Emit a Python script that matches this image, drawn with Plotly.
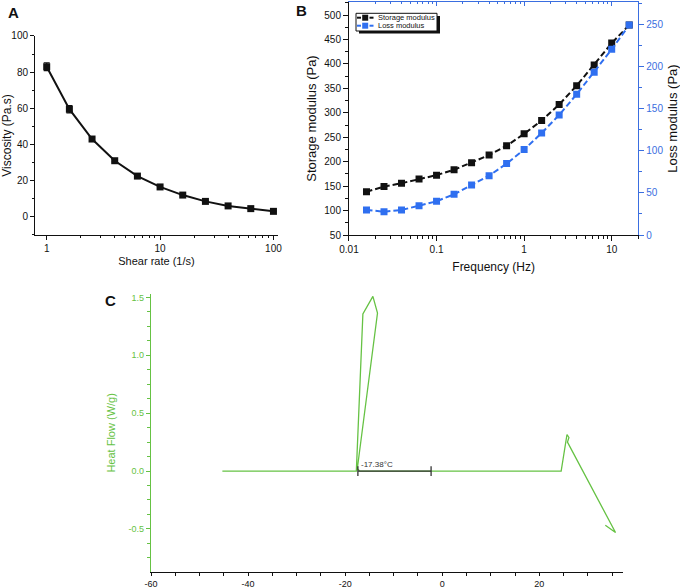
import plotly.graph_objects as go

# ---------------- data ----------------
shear_rate = [1, 1.585, 2.512, 3.981, 6.310, 10, 15.85, 25.12, 39.81, 63.10, 100]
viscosity = [83, 59.5, 43, 31, 22.5, 16.5, 12, 8.5, 6, 4.5, 3]
viscosity_err = [2.2, 2.0, 0.8, 0.6, 0.5, 0.4, 0.3, 0.3, 0.2, 0.2, 0.2]

frequency = [0.01585, 0.02512, 0.03981, 0.0631, 0.1, 0.1585, 0.2512, 0.3981,
             0.631, 1, 1.585, 2.512, 3.981, 6.31, 10, 15.85]
storage_modulus = [138.5, 149, 156, 164.5, 172.5, 183.5, 198, 213.5,
                   232.5, 257, 284, 317, 355.5, 398, 442.5, 479.5]
loss_modulus = [29.7, 27.7, 29.7, 34.8, 40, 48.3, 59.3, 70.4,
                84.7, 101.3, 121, 142.4, 167, 193, 220.3, 249]
series_names = ["Storage modulus", "Loss modulus"]

temperature = [-45.3, -17.7, -16.35, -14.29, -13.34, -17.5, -17.0, 24.5,
               25.7, 26.1, 25.8, 35.7, 33.6]
heat_flow = [0.0, 0.0, 1.357, 1.509, 1.366, 0.02, 0.0, 0.0,
             0.316, 0.29, 0.25, -0.531, -0.468]
onset_bar_x = [-17.38, -2.3]
onset_bar_y = [0, 0]
onset_label = "-17.38°C"

c_xtick_vals = [-60, -40, -20, 0, 20]
c_xtick_text = ["-60", "-40", "-20", "0", "20"]
c_ytick_vals = [-0.5, 0.0, 0.5, 1.0, 1.5]
c_ytick_text = ["-0.5", "0.0", "0.5", "1.0", "1.5"]

BLACK = "#111111"
BLUE = "#2f6ff0"
BLUE_AX = "#3a6ee0"
GREEN = "#66c244"
FONT = "Arial, Liberation Sans, sans-serif"
W, H = 680, 588

fig = go.Figure()

# Panel A
fig.add_trace(go.Scatter(
    x=shear_rate, y=viscosity, mode="lines+markers",
    line=dict(color=BLACK, width=2),
    marker=dict(symbol="square", size=7, color=BLACK),
    error_y=dict(type="data", array=viscosity_err, color=BLACK, thickness=1.2, width=3),
    xaxis="x", yaxis="y", showlegend=False))

# Panel B
fig.add_trace(go.Scatter(
    x=frequency, y=storage_modulus, mode="lines+markers", name=series_names[0],
    line=dict(color=BLACK, width=2, dash="6px,3px"),
    marker=dict(symbol="square", size=7, color=BLACK),
    xaxis="x2", yaxis="y2", showlegend=False))
fig.add_trace(go.Scatter(
    x=frequency, y=loss_modulus, mode="lines+markers", name=series_names[1],
    line=dict(color=BLUE, width=2, dash="6px,3px"),
    marker=dict(symbol="square", size=7, color=BLUE),
    xaxis="x2", yaxis="y3", showlegend=False))
# invisible helper trace for the top blue frame axis
fig.add_trace(go.Scatter(
    x=frequency[:1], y=storage_modulus[:1], mode="markers",
    marker=dict(opacity=0), hoverinfo="skip", showlegend=False,
    xaxis="x4", yaxis="y2"))

# Panel C
fig.add_trace(go.Scatter(
    x=temperature, y=heat_flow, mode="lines",
    line=dict(color=GREEN, width=1.3),
    xaxis="x3", yaxis="y4", showlegend=False))
fig.add_trace(go.Scatter(
    x=onset_bar_x, y=onset_bar_y, mode="lines+markers",
    line=dict(color="#333333", width=1.3),
    marker=dict(symbol="line-ns", size=7, line=dict(color="#333333", width=1.3)),
    xaxis="x3", yaxis="y4", showlegend=False))

tickfont = dict(family=FONT, size=10, color=BLACK)


def log_minor(decades):
    vals = []
    for d in decades:
        for k in range(2, 10):
            vals.append(k * d)
    return vals


fig.update_layout(
    width=W, height=H,
    margin=dict(l=0, r=0, t=0, b=0, autoexpand=False),
    paper_bgcolor="white", plot_bgcolor="white",
    font=dict(family=FONT, color=BLACK),
    showlegend=False,
    # Panel A axes
    xaxis=dict(domain=[0.0515, 0.4088], type="log", range=[-0.103, 2.04],
               anchor="y", showgrid=False, zeroline=False, automargin=False,
               showline=True, linecolor=BLACK, linewidth=1,
               tickmode="array", tickvals=[1, 10, 100], ticktext=["1", "10", "100"],
               ticks="outside", ticklen=4, tickcolor=BLACK, tickfont=tickfont,
               minor=dict(tickmode="array", tickvals=log_minor([1, 10]), ticks="outside",
                          ticklen=2, tickcolor=BLACK),
               title=dict(text="Shear rate (1/s)", font=dict(size=11, family=FONT), standoff=4)),
    yaxis=dict(domain=[0.6003, 0.9388], range=[-10.1, 100], anchor="x",
               showgrid=False, zeroline=False, automargin=False,
               showline=True, linecolor=BLACK, linewidth=1,
               tickmode="linear", tick0=0, dtick=20,
               ticks="outside", ticklen=4, tickcolor=BLACK, tickfont=tickfont,
               minor=dict(dtick=10, ticks="outside", ticklen=2, tickcolor=BLACK),
               title=dict(text="Viscosity (Pa.s)", font=dict(size=12, family=FONT), standoff=4)),
    # Panel B axes
    xaxis2=dict(domain=[0.5132, 0.9387], type="log", range=[-2, 1.304],
                anchor="y2", showgrid=False, zeroline=False, automargin=False,
                showline=True, linecolor=BLACK, linewidth=1,
                tickmode="array", tickvals=[0.01, 0.1, 1, 10],
                ticktext=["0.01", "0.1", "1", "10"],
                ticks="outside", ticklen=5, tickcolor=BLACK, tickfont=tickfont,
                minor=dict(tickmode="array", tickvals=log_minor([0.01, 0.1, 1, 10]),
                           ticks="outside", ticklen=3, tickcolor=BLACK),
                title=dict(text="Frequency (Hz)", font=dict(size=12, family=FONT), standoff=8)),
    xaxis4=dict(domain=[0.5132, 0.9387], type="log", range=[-2, 1.304],
                anchor="y2", overlaying="x2", side="top", showgrid=False, zeroline=False,
                automargin=False,
                showline=True, linecolor=BLUE_AX, linewidth=1,
                tickmode="array", tickvals=[0.01, 0.1, 1, 10], showticklabels=False,
                ticks="inside", ticklen=4, tickcolor=BLUE_AX,
                minor=dict(tickmode="array", tickvals=log_minor([0.01, 0.1, 1, 10]),
                           ticks="inside", ticklen=2, tickcolor=BLUE_AX)),
    yaxis2=dict(domain=[0.6003, 0.9966], range=[50, 526.6], anchor="x2",
                showgrid=False, zeroline=False, automargin=False,
                showline=True, linecolor=BLACK, linewidth=1,
                tickmode="linear", tick0=50, dtick=50,
                ticks="outside", ticklen=5, tickcolor=BLACK, tickfont=tickfont,
                minor=dict(dtick=25, ticks="outside", ticklen=3, tickcolor=BLACK),
                title=dict(text="Storage modulus (Pa)", font=dict(size=13, family=FONT), standoff=4)),
    yaxis3=dict(domain=[0.6003, 0.9966], range=[0, 276.4], anchor="x2",
                overlaying="y2", side="right",
                showgrid=False, zeroline=False, automargin=False,
                showline=True, linecolor=BLUE_AX, linewidth=1,
                tickmode="linear", tick0=0, dtick=50,
                ticks="outside", ticklen=5, tickcolor=BLUE_AX,
                tickfont=dict(family=FONT, size=10, color=BLUE_AX),
                minor=dict(dtick=25, ticks="outside", ticklen=3, tickcolor=BLUE_AX),
                title=dict(text="Loss modulus (Pa)", font=dict(size=13, family=FONT, color=BLACK),
                           standoff=8)),
    # Panel C axes
    xaxis3=dict(domain=[0.2221, 0.9166], range=[-60, 37.3], anchor="y4",
                showgrid=False, zeroline=False, automargin=False,
                showline=True, linecolor=BLACK, linewidth=1.2,
                tickmode="array", tickvals=c_xtick_vals, ticktext=c_xtick_text,
                ticks="outside", ticklen=3, tickcolor=BLACK,
                tickfont=dict(family=FONT, size=9, color=BLACK),
                minor=dict(dtick=5, tick0=-60, ticks="outside", ticklen=3, tickcolor=BLACK)),
    yaxis4=dict(domain=[0.0277, 0.5], range=[-0.87, 1.53], anchor="x3",
                showgrid=False, zeroline=False, automargin=False,
                showline=True, linecolor=GREEN, linewidth=1.2,
                tickmode="array", tickvals=c_ytick_vals, ticktext=c_ytick_text,
                ticks="outside", ticklen=4, tickcolor=GREEN,
                tickfont=dict(family=FONT, size=9, color=GREEN),
                minor=dict(dtick=0.125, tick0=0, ticks="outside", ticklen=3, tickcolor=GREEN),
                title=dict(text="Heat Flow (W/g)", font=dict(size=11, family=FONT, color=GREEN),
                           standoff=10)),
)


def px(x):
    return x / W


def py(y):
    return 1 - y / H


# custom compact legend for panel B (box with drop shadow)
shapes = [
    dict(type="rect", xref="paper", yref="paper", x0=px(359), x1=px(440), y0=py(16), y1=py(33.5),
         fillcolor=BLACK, line=dict(width=0), layer="above"),
    dict(type="rect", xref="paper", yref="paper", x0=px(356), x1=px(437), y0=py(13.3), y1=py(31),
         fillcolor="white", line=dict(color=BLACK, width=1), layer="above"),
]
legend_rows = [(17.7, BLACK), (25.7, BLUE)]
for (yy, col) in legend_rows:
    shapes.append(dict(type="line", xref="paper", yref="paper", x0=px(357), x1=px(361),
                       y0=py(yy), y1=py(yy), line=dict(color=col, width=2), layer="above"))
    shapes.append(dict(type="line", xref="paper", yref="paper", x0=px(369.5), x1=px(373.5),
                       y0=py(yy), y1=py(yy), line=dict(color=col, width=2), layer="above"))
    shapes.append(dict(type="rect", xref="paper", yref="paper", x0=px(362.2), x1=px(368.2),
                       y0=py(yy - 3), y1=py(yy + 3), fillcolor=col, line=dict(width=0),
                       layer="above"))
fig.update_layout(shapes=shapes)

for name, (yy, col) in zip(series_names, legend_rows):
    fig.add_annotation(text=name, x=px(375.5), y=py(yy), xref="paper", yref="paper",
                       xanchor="left", yanchor="middle", showarrow=False,
                       font=dict(family=FONT, size=7.5, color=BLACK))

annots = [
    dict(text="<b>A</b>", x=13, y=12),
    dict(text="<b>B</b>", x=301, y=10),
    dict(text="<b>C</b>", x=110, y=300),
]
for a in annots:
    fig.add_annotation(text=a["text"], x=px(a["x"]), y=py(a["y"]),
                       xref="paper", yref="paper", showarrow=False,
                       xanchor="center", yanchor="middle",
                       font=dict(family=FONT, size=15, color=BLACK))

fig.add_annotation(text=onset_label, x=onset_bar_x[0], y=onset_bar_y[0],
                   xref="x3", yref="y4", xanchor="left", yanchor="bottom",
                   xshift=1, yshift=0, showarrow=False,
                   font=dict(family=FONT, size=8, color="#333333"))

fig.write_html(
    "out.html",
    config={"displayModeBar": False},
    post_script="document.body.style.margin='0';document.body.style.padding='0';"
                "document.body.style.overflow='hidden';",
)
